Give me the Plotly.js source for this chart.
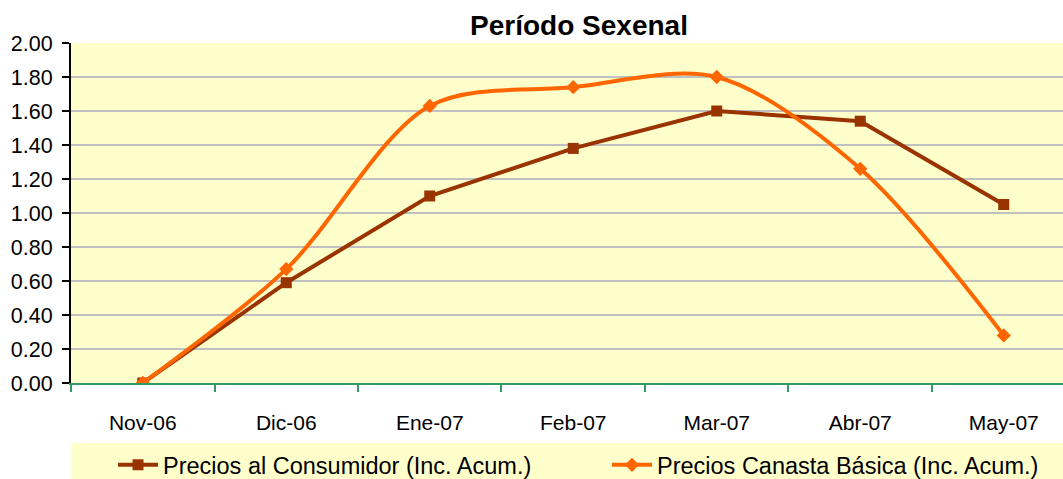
<!DOCTYPE html>
<html><head><meta charset="utf-8">
<script src="https://cdn.plot.ly/plotly-3.0.1.min.js"></script>
<style>body{margin:0;background:#fff}#c{width:1063px;height:479px}</style>
</head><body><div id="c"></div>
<script>
const categories = ["Nov-06","Dic-06","Ene-07","Feb-07","Mar-07","Abr-07","May-07"];
const consumidor = [0.00, 0.59, 1.10, 1.38, 1.60, 1.54, 1.05];
const canasta = [0.00, 0.67, 1.63, 1.74, 1.80, 1.26, 0.28];
const yTicks = [0,0.2,0.4,0.6,0.8,1.0,1.2,1.4,1.6,1.8,2.0];
const names = ["Precios al Consumidor (Inc. Acum.)","Precios Canasta Básica (Inc. Acum.)"];
const title = "Período Sexenal";

const font = {family:"Liberation Sans, Arial, sans-serif", color:"#000"};
const traces = [
 {x:categories, y:consumidor, name:names[0], type:"scatter", mode:"lines+markers", legend:"legend",
  line:{color:"#993300", width:4}, marker:{symbol:"square", size:11, color:"#993300"}},
 {x:categories, y:canasta, name:names[1], type:"scatter", mode:"lines+markers", legend:"legend2",
  line:{color:"#FF6600", width:4, shape:"spline", smoothing:0.9}, marker:{symbol:"diamond", size:11, color:"#FF6600"}}
];
const legBase = {orientation:"h", xref:"container", yref:"container", y:(479-465)/479, xanchor:"left", yanchor:"middle",
  bgcolor:"rgba(0,0,0,0)", font:Object.assign({size:23.5}, font), itemwidth:40};
const layout = {
 width:1063, height:479,
 margin:{l:71, r:0, t:43, b:96},
 paper_bgcolor:"#ffffff", plot_bgcolor:"#FFFFCC",
 font:Object.assign({size:21}, font),
 title:{text:"<b>"+title+"</b>", font:Object.assign({size:28}, font), x:579/1063, xanchor:"center", y:1-25/479, yanchor:"middle", xref:"container", yref:"container"},
 showlegend:true,
 legend:Object.assign({}, legBase, {x:113/1063}),
 legend2:Object.assign({}, legBase, {x:607/1063}),
 xaxis:{type:"category", range:[-0.5, 6.413], showgrid:false, showline:true, linecolor:"#339966", linewidth:2,
   ticks:"outside", tickson:"boundaries", ticklen:7, tickcolor:"#339966", tickwidth:2,
   ticklabelstandoff:20, tickfont:Object.assign({size:21}, font), zeroline:false, fixedrange:true},
 yaxis:{range:[0,2], tickvals:yTicks, ticktext:yTicks.map(v=>v.toFixed(2)), showgrid:true, gridcolor:"#C0C0C0", gridwidth:1.5,
   showline:true, linecolor:"#000", linewidth:2, ticks:"outside", ticklen:7, tickcolor:"#000", tickwidth:2,
   ticklabelstandoff:5, zeroline:false, tickfont:Object.assign({size:21.5}, font), fixedrange:true},
 shapes:[{type:"rect", xref:"paper", yref:"paper", x0:0, x1:1.0, y0:-96/340, y1:-60/340, fillcolor:"#FFFFCC", line:{width:0}, layer:"below"}]
};
Plotly.newPlot("c", traces, layout, {displayModeBar:false, staticPlot:true});
</script></body></html>
